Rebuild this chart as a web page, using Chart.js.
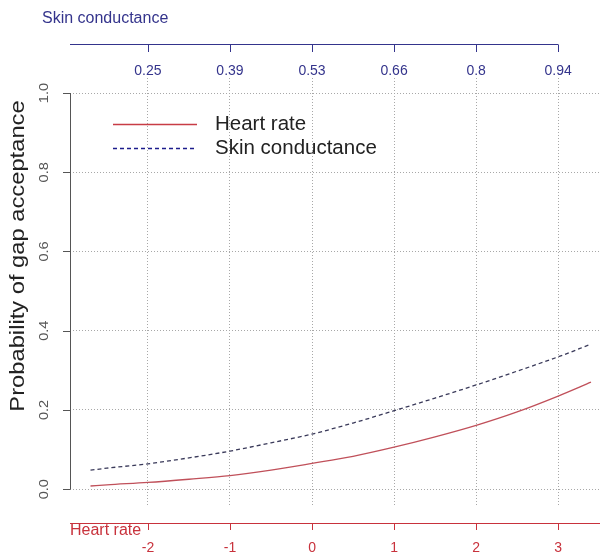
<!DOCTYPE html>
<html>
<head>
<meta charset="utf-8">
<script src="https://cdn.jsdelivr.net/npm/chart.js@4"></script>
<style>
  html, body { margin: 0; padding: 0; background: #fff; }
  #wrap { width: 600px; height: 554px; position: relative; }
</style>
</head>
<body>
<div id="wrap"><canvas id="chart"></canvas></div>
<script>
// x positions of the curves (heart rate, standardised)
const hrValues = [-2.7, -2.5, -2, -1.5, -1, -0.5, 0, 0.5, 1, 1.5, 2, 2.5, 3, 3.4];
// probability of gap acceptance
const heartRateProb = [0.008, 0.011, 0.017, 0.025, 0.034, 0.048, 0.065, 0.083, 0.106, 0.132, 0.161, 0.195, 0.235, 0.27];
const skinCondProb = [0.048, 0.053, 0.064, 0.079, 0.096, 0.117, 0.139, 0.167, 0.198, 0.230, 0.263, 0.298, 0.334, 0.366];

// axis ticks
const hrTicks = [-2, -1, 0, 1, 2, 3];
const skinTickLabels = ['0.25', '0.39', '0.53', '0.66', '0.8', '0.94'];
const yTicks = [0, 0.2, 0.4, 0.6, 0.8, 1.0];

const FONT = '"Liberation Sans", Arial, sans-serif';
const RED = '#c8323c';
const BLUE = '#34348c';

function toPoints(xs, ys) {
    return xs.map((x, i) => ({ x, y: ys[i] }));
}

// rotated text, stretched a little along its length like the source image
function vText(ctx, text, cx, cy, stretch) {
    ctx.save();
    ctx.translate(cx, cy);
    ctx.rotate(-Math.PI / 2);
    ctx.scale(stretch, 1);
    ctx.fillText(text, 0, 0);
    ctx.restore();
}

// R-style axes, labels and legend drawn on top of the chart
const rAxes = {
    id: 'rAxes',
    afterDraw(chart) {
        const { ctx, scales: { x, y } } = chart;
        const area = chart.chartArea;
        ctx.save();
        ctx.lineWidth = 1;

        // left axis (0 .. 1)
        ctx.strokeStyle = '#555';
        ctx.beginPath();
        ctx.moveTo(70.5, y.getPixelForValue(0));
        ctx.lineTo(70.5, y.getPixelForValue(1));
        yTicks.forEach(v => {
            const py = Math.round(y.getPixelForValue(v)) + 0.5;
            ctx.moveTo(70.5, py);
            ctx.lineTo(63, py);
        });
        ctx.stroke();
        ctx.fillStyle = '#555';
        ctx.font = '13px ' + FONT;
        ctx.textAlign = 'center';
        ctx.textBaseline = 'middle';
        yTicks.forEach(v => vText(ctx, v.toFixed(1), 44, y.getPixelForValue(v), 1.12));
        ctx.fillStyle = '#222';
        ctx.font = '21px ' + FONT;
        vText(ctx, 'Probability of gap acceptance', 18, 256, 1.13);

        // top axis (skin conductance)
        const lastTop = x.getPixelForValue(hrTicks[hrTicks.length - 1]);
        ctx.strokeStyle = BLUE;
        ctx.beginPath();
        ctx.moveTo(70, 44.5);
        ctx.lineTo(lastTop, 44.5);
        hrTicks.forEach(v => {
            const px = Math.round(x.getPixelForValue(v)) + 0.5;
            ctx.moveTo(px, 44.5);
            ctx.lineTo(px, 52);
        });
        ctx.stroke();
        ctx.fillStyle = BLUE;
        ctx.font = '14px ' + FONT;
        hrTicks.forEach((v, i) => {
            ctx.fillText(skinTickLabels[i], x.getPixelForValue(v), 71);
        });
        ctx.textAlign = 'left';
        ctx.font = '16px ' + FONT;
        ctx.fillText('Skin conductance', 42, 19);

        // bottom axis (heart rate)
        ctx.strokeStyle = RED;
        ctx.beginPath();
        ctx.moveTo(70, 523.5);
        ctx.lineTo(area.right, 523.5);
        hrTicks.forEach(v => {
            const px = Math.round(x.getPixelForValue(v)) + 0.5;
            ctx.moveTo(px, 523.5);
            ctx.lineTo(px, 530);
        });
        ctx.stroke();
        ctx.fillStyle = RED;
        ctx.textAlign = 'center';
        ctx.font = '14px ' + FONT;
        hrTicks.forEach(v => {
            ctx.fillText(String(v), x.getPixelForValue(v), 548);
        });
        ctx.textAlign = 'left';
        ctx.font = '16px ' + FONT;
        ctx.fillText('Heart rate', 70, 531);

        // legend
        const rows = [124, 148];
        chart.data.datasets.forEach((ds, i) => {
            ctx.strokeStyle = ds.legendColor;
            ctx.lineWidth = 1.5;
            ctx.setLineDash(ds.borderDash || []);
            ctx.beginPath();
            ctx.moveTo(113, rows[i] + 0.5);
            ctx.lineTo(197, rows[i] + 0.5);
            ctx.stroke();
            ctx.setLineDash([]);
            ctx.fillStyle = '#222';
            ctx.font = '20.5px ' + FONT;
            ctx.textAlign = 'left';
            ctx.fillText(ds.label, 215, rows[i]);
        });
        ctx.restore();
    }
};

const gridStyle = {
    color: '#a8a8a8',
    lineWidth: 1,
    drawTicks: false
};

new Chart(document.getElementById('chart'), {
    type: 'line',
    data: {
        datasets: [
            {
                label: 'Heart rate',
                data: toPoints(hrValues, heartRateProb),
                borderColor: '#c0505a',
                legendColor: '#c83c46',
                borderWidth: 1.3,
                pointRadius: 0,
                cubicInterpolationMode: 'monotone',
                fill: false
            },
            {
                label: 'Skin conductance',
                data: toPoints(hrValues, skinCondProb),
                borderColor: '#3a3a5a',
                legendColor: '#1c1c8c',
                borderWidth: 1.3,
                borderDash: [4, 3],
                pointRadius: 0,
                cubicInterpolationMode: 'monotone',
                fill: false
            }
        ]
    },
    options: {
        responsive: true,
        maintainAspectRatio: false,
        animation: false,
        layout: { padding: { left: 70, right: 0, top: 78, bottom: 49 } },
        plugins: {
            legend: { display: false },
            tooltip: { enabled: false }
        },
        scales: {
            x: {
                type: 'linear',
                min: -2.95,
                max: 3.51,
                border: { display: false, dash: [1, 2] },
                grid: gridStyle,
                ticks: { display: false },
                afterBuildTicks: scale => { scale.ticks = hrTicks.map(v => ({ value: v })); }
            },
            y: {
                type: 'linear',
                min: -0.04,
                max: 1.038,
                border: { display: false, dash: [1, 2] },
                grid: gridStyle,
                ticks: { display: false },
                afterBuildTicks: scale => { scale.ticks = yTicks.map(v => ({ value: v })); }
            }
        }
    },
    plugins: [rAxes]
});
</script>
</body>
</html>
